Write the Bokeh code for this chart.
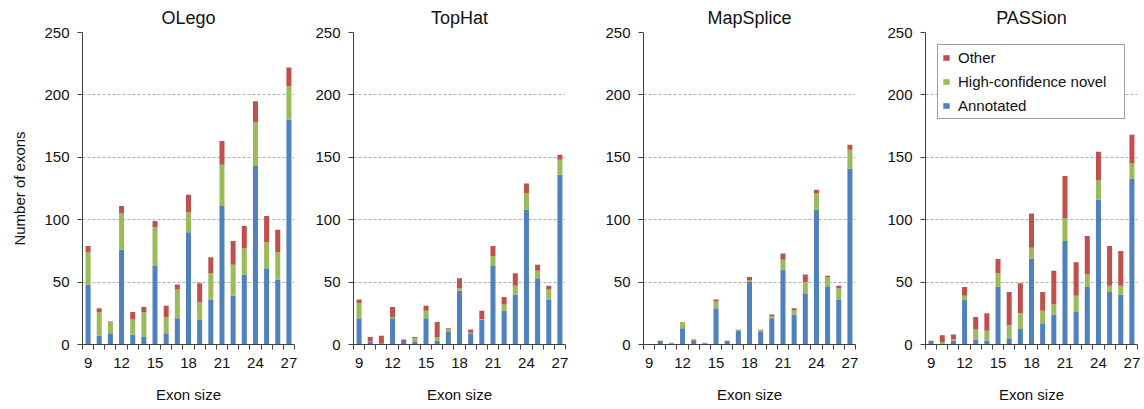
from bokeh.plotting import figure
from bokeh.models import ColumnDataSource, FixedTicker, Legend, LegendItem, Range1d
from bokeh.layouts import row
from bokeh.embed import file_html
from bokeh.resources import INLINE

exon_size = [9, 10, 11, 12, 13, 14, 15, 16, 17, 18, 19, 20, 21, 22, 23, 24, 25, 26, 27]
x_tick_labels = [9, 12, 15, 18, 21, 24, 27]
y_ticks = [0, 50, 100, 150, 200, 250]

olego_annotated = [48, 7, 9, 76, 8, 6, 63, 9, 21, 90, 20, 36, 111, 39, 56, 143, 61, 52, 180]
olego_novel = [26, 19, 9, 29, 12, 20, 31, 13, 23, 16, 14, 21, 33, 25, 21, 35, 21, 22, 27]
olego_other = [5, 3, 0.5, 6, 6, 4, 5, 9, 4, 14, 15, 13, 19, 19, 18, 17, 21, 18, 15]

tophat_annotated = [21, 2, 1, 21, 2, 2, 21, 3, 10, 43, 9, 20, 63, 27, 40, 108, 53, 36, 136]
tophat_novel = [12, 0.5, 0, 1, 0, 3, 6, 3, 2, 2, 0.5, 0.5, 8, 5, 7, 13, 6, 8, 12]
tophat_other = [3, 3.5, 6, 8, 2, 1, 4, 12, 1, 8, 2.5, 6.5, 8, 6, 10, 8, 5, 3, 4]

mapsplice_annotated = [0, 2, 1, 13, 3, 1, 29, 3, 11, 50, 10, 21, 60, 24, 41, 108, 46, 36, 141]
mapsplice_novel = [0, 0, 0.5, 5, 0, 0.5, 5.5, 0, 1, 1.5, 2, 1.5, 8, 3.5, 9, 13, 8, 9, 15]
mapsplice_other = [0, 1, 0, 0, 1, 0, 1.5, 0, 0, 2.5, 0, 1.5, 5, 1.5, 6, 3, 1, 2, 4]

passion_annotated = [2, 0.5, 3, 36, 4, 3, 46, 5, 12.5, 68.5, 17, 24, 83, 26, 46, 116, 42, 40, 133]
passion_novel = [0, 1.5, 1, 3, 8, 8, 11, 10.5, 12.5, 9, 10, 8, 18, 13, 10, 15.5, 5, 7, 12]
passion_other = [1, 5.5, 4, 7, 10, 14, 11.5, 26.5, 24, 27.5, 15, 27, 34, 27, 31, 23, 32, 28, 23]

BLUE = "#4F81BD"
GREEN = "#9BBB59"
RED = "#C0504D"
FONT = "Liberation Sans"
AXIS_COLOR = "#404040"
TEXT_COLOR = "#111111"


def make_panel(title, annot, novel, other, left_border, right_border, ylabel=None, legend=False):
    src = ColumnDataSource(dict(x=exon_size, annot=annot, novel=novel, other=other))
    p = figure(frame_width=212, frame_height=312,
               x_range=Range1d(exon_size[0] - 0.5, exon_size[-1] + 0.5),
               y_range=Range1d(y_ticks[0], y_ticks[-1]),
               output_backend="svg", toolbar_location=None,
               min_border_left=left_border, min_border_right=right_border,
               min_border_top=32, min_border_bottom=63, title=title)
    rs = p.vbar_stack(["annot", "novel", "other"], x="x", width=0.45, source=src,
                      fill_color=[BLUE, GREEN, RED], line_color=None)
    p.title.text_font = FONT
    p.title.text_font_size = "18px"
    p.title.text_font_style = "normal"
    p.title.align = "center"
    p.title.text_color = TEXT_COLOR
    p.title.standoff = 9
    p.outline_line_color = None
    p.background_fill_color = "white"
    p.border_fill_color = "white"

    xa = p.xaxis[0]
    xa.ticker = FixedTicker(ticks=x_tick_labels,
                            minor_ticks=[s - 0.5 for s in exon_size] + [exon_size[-1] + 0.5])
    xa.major_tick_line_color = None
    xa.minor_tick_line_color = AXIS_COLOR
    xa.minor_tick_in = 0
    xa.minor_tick_out = 5
    xa.axis_line_color = AXIS_COLOR
    xa.major_label_text_font = FONT
    xa.major_label_text_font_size = "15px"
    xa.major_label_text_color = TEXT_COLOR
    xa.major_label_standoff = 7
    xa.axis_label = "Exon size"
    xa.axis_label_text_font = FONT
    xa.axis_label_text_font_size = "15px"
    xa.axis_label_text_font_style = "normal"
    xa.axis_label_text_color = TEXT_COLOR
    xa.axis_label_standoff = 15

    ya = p.yaxis[0]
    ya.ticker = FixedTicker(ticks=y_ticks)
    ya.major_tick_in = 0
    ya.major_tick_out = 5
    ya.major_tick_line_color = AXIS_COLOR
    ya.minor_tick_line_color = None
    ya.axis_line_color = AXIS_COLOR
    ya.major_label_text_font = FONT
    ya.major_label_text_font_size = "15px"
    ya.major_label_text_color = TEXT_COLOR
    ya.major_label_standoff = 8
    if ylabel:
        ya.axis_label = ylabel
        ya.axis_label_text_font = FONT
        ya.axis_label_text_font_size = "15px"
        ya.axis_label_text_font_style = "normal"
        ya.axis_label_text_color = TEXT_COLOR
        ya.axis_label_standoff = 13

    p.xgrid.visible = False
    p.ygrid.grid_line_color = "#b0b0b0"
    p.ygrid.grid_line_dash = "3 2"
    p.ygrid.grid_line_width = 1

    if legend:
        lg = Legend(items=[LegendItem(label="Other", renderers=[rs[2]]),
                           LegendItem(label="High-confidence novel", renderers=[rs[1]]),
                           LegendItem(label="Annotated", renderers=[rs[0]])],
                    location="top_left")
        lg.margin = 12
        lg.padding = 4
        lg.spacing = 7
        lg.glyph_width = 8
        lg.glyph_height = 7
        lg.label_height = 15
        lg.label_width = 162
        lg.label_standoff = 8
        lg.label_text_font = FONT
        lg.label_text_font_size = "15px"
        lg.label_text_color = TEXT_COLOR
        lg.border_line_color = AXIS_COLOR
        lg.border_line_width = 1
        lg.background_fill_color = "white"
        lg.background_fill_alpha = 1
        p.add_layout(lg)
    return p


p1 = make_panel("OLego", olego_annotated, olego_novel, olego_other, 82, 15, ylabel="Number of exons")
p2 = make_panel("TopHat", tophat_annotated, tophat_novel, tophat_other, 44, 15)
p3 = make_panel("MapSplice", mapsplice_annotated, mapsplice_novel, mapsplice_other, 63, 15)
p4 = make_panel("PASSion", passion_annotated, passion_novel, passion_other, 55, 6, legend=True)

layout = row(p1, p2, p3, p4)
open("out.html", "w").write(file_html(layout, INLINE))
